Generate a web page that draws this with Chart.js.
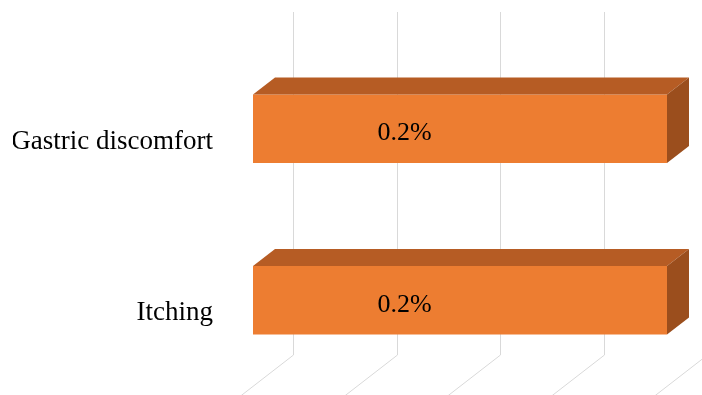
<!DOCTYPE html>
<html>
<head>
<meta charset="utf-8">
<script src="https://cdn.jsdelivr.net/npm/chart.js@4"></script>
<style>
  html, body { margin: 0; padding: 0; background: #ffffff; }
  #wrap { width: 702px; height: 395px; position: relative; }
</style>
</head>
<body>
<div id="wrap"><canvas id="c" width="702" height="395"></canvas></div>
<script>
const categories = ["Gastric discomfort", "Itching"];
const values = [0.2, 0.2];
const xTicks = [0, 0.05, 0.1, 0.15, 0.2];

const FRONT = '#ED7D31';
const TOP = '#B65C24';
const SIDE = '#9B4E1D';
const DEPTH_DX = 22, DEPTH_DY = -17;
const WALL_DX = 40, WALL_DY = -31;

const gridPlugin = {
  id: 'grid3d',
  beforeDatasetsDraw(chart) {
    const ctx = chart.ctx, xs = chart.scales.x, area = chart.chartArea;
    ctx.save();
    ctx.strokeStyle = '#D9D9D9';
    ctx.lineWidth = 1;
    const topY = area.top + WALL_DY;
    const floorY = area.bottom + WALL_DY;
    xTicks.forEach(v => {
      const bx = Math.round(xs.getPixelForValue(v) + WALL_DX) + 0.5;
      ctx.beginPath();
      ctx.moveTo(bx, topY);
      ctx.lineTo(bx, floorY);
      ctx.lineTo(bx - WALL_DX * 2, floorY - WALL_DY * 2);
      ctx.stroke();
    });
    ctx.restore();
  }
};

const barPlugin = {
  id: 'bar3d',
  afterDatasetsDraw(chart) {
    const ctx = chart.ctx;
    const meta = chart.getDatasetMeta(0);
    ctx.save();
    meta.data.forEach((bar, i) => {
      const p = bar.getProps(['x', 'y', 'base', 'height'], true);
      const left = p.base, right = p.x;
      const top = p.y - p.height / 2, bottom = p.y + p.height / 2;
      ctx.fillStyle = TOP;
      ctx.beginPath();
      ctx.moveTo(left, top);
      ctx.lineTo(left + DEPTH_DX, top + DEPTH_DY);
      ctx.lineTo(right + DEPTH_DX, top + DEPTH_DY);
      ctx.lineTo(right, top);
      ctx.closePath();
      ctx.fill();
      ctx.fillStyle = SIDE;
      ctx.beginPath();
      ctx.moveTo(right, top);
      ctx.lineTo(right + DEPTH_DX, top + DEPTH_DY);
      ctx.lineTo(right + DEPTH_DX, bottom + DEPTH_DY);
      ctx.lineTo(right, bottom);
      ctx.closePath();
      ctx.fill();
      ctx.fillStyle = '#000000';
      ctx.font = '26px "Liberation Serif"';
      ctx.textAlign = 'center';
      ctx.textBaseline = 'middle';
      ctx.fillText(values[i] + '%', left + (right - left) * 0.366, p.y + 4.5);
    });
    ctx.restore();
  }
};

new Chart(document.getElementById('c'), {
  type: 'bar',
  data: {
    labels: categories,
    datasets: [{
      data: values,
      backgroundColor: FRONT,
      borderWidth: 0,
      barPercentage: 0.4,
      categoryPercentage: 1.0
    }]
  },
  options: {
    indexAxis: 'y',
    responsive: false,
    animation: false,
    layout: { padding: { left: 13, right: 35, top: 43, bottom: 9 } },
    plugins: { legend: { display: false }, tooltip: { enabled: false } },
    scales: {
      x: {
        display: false,
        min: 0,
        max: 0.2,
        ticks: { stepSize: 0.05 }
      },
      y: {
        grid: { display: false, drawTicks: false },
        border: { display: false },
        afterFit(s) { s.width = 240; s.paddingTop = 0; s.paddingBottom = 0; },
        ticks: {
          color: '#000000',
          font: { family: 'Liberation Serif', size: 27 },
          padding: 40,
          labelOffset: 13
        }
      }
    }
  },
  plugins: [gridPlugin, barPlugin]
});
</script>
</body>
</html>
